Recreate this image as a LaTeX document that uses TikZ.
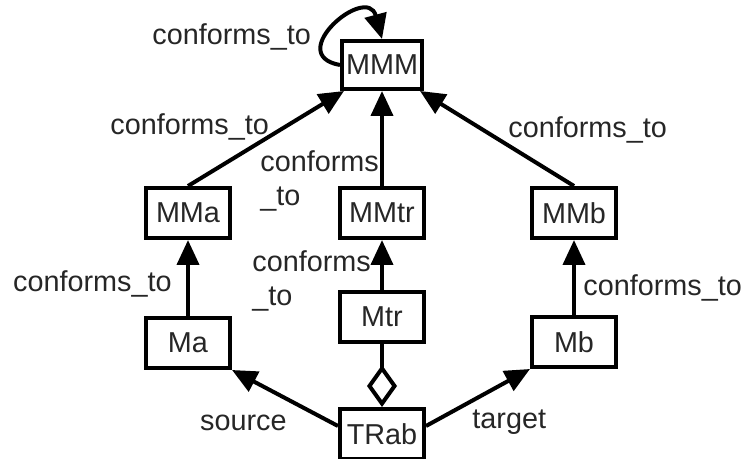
\documentclass[tikz,border=0pt]{standalone}
\usepackage{fontspec}
\setmainfont{Liberation Sans}
\usetikzlibrary{arrows.meta}

\begin{document}
\begin{tikzpicture}[x=0.5pt, y=0.5pt, font=\fontsize{14.4}{17}\selectfont, text=black!85]
\useasboundingbox (0,0) rectangle (743,-459);

\tikzset{BoxStyle/.style = {
 draw = black,
 line width = 2pt,
 minimum width = 42pt,
 minimum height = 25pt,
 inner sep = 0pt} }

\node[BoxStyle, minimum width=40pt, minimum height=24pt] (MMM) at (382,-65) {MMM};
\node[BoxStyle] (MMa) at (188,-213) {MMa};
\node[BoxStyle] (MMtr) at (382,-213) {MMtr};
\node[BoxStyle] (MMb) at (574,-213) {MMb};
\node[BoxStyle] (Ma) at (188,-343) {Ma};
\node[BoxStyle] (Mtr) at (382,-317) {Mtr};
\node[BoxStyle] (Mb) at (574,-342) {Mb};
\node[BoxStyle] (TRab) at (382,-434) {TRab};

\tikzset{EdgeStyle/.style = {line width=2pt, -{Triangle[length=12.5pt, width=11pt]}} }
\tikzset{AggStyle/.style = {line width=2pt, {Diamond[open, length=21pt, width=15pt]}-} }
\tikzset{LabelStyle/.style = {inner sep=0pt} }

\draw[EdgeStyle] (MMM.west) to[out=170, in=105, looseness=3] (MMM.north);
\draw[EdgeStyle] (MMa.north) -- ([xshift=2pt]MMM.south west);
\draw[EdgeStyle] (MMtr) -- (MMM);
\draw[EdgeStyle] (MMb.north) -- ([xshift=-2pt]MMM.south east);
\draw[EdgeStyle] (Ma) -- (MMa);
\draw[EdgeStyle] (Mtr) -- (MMtr);
\draw[EdgeStyle] (Mb) -- (MMb);
\draw[EdgeStyle] ([yshift=4pt]TRab.west) -- (Ma.south east);
\draw[EdgeStyle] ([yshift=4pt]TRab.east) -- (Mb.south west);
\draw[AggStyle] (TRab) -- (Mtr);

\node[LabelStyle, anchor=base west] (L1) at (152,-45) {conforms\_to};
\node[LabelStyle, anchor=base west] (L2) at (110,-135) {conforms\_to};
\node[LabelStyle, anchor=base west] (L3) at (508,-138) {conforms\_to};
\node[LabelStyle, anchor=north west, align=left] (L4) at (260,-150) {conforms\\\_to};
\node[LabelStyle, anchor=north west, align=left] (L5) at (252,-250) {conforms\\\_to};
\node[LabelStyle, anchor=base east] (L6) at (172,-292) {conforms\_to};
\node[LabelStyle, anchor=base west] (L7) at (583,-296) {conforms\_to};
\node[LabelStyle, anchor=base east] (L8) at (287,-430) {source};
\node[LabelStyle, anchor=base west] (L9) at (472,-428) {target};

\end{tikzpicture}
\end{document}
